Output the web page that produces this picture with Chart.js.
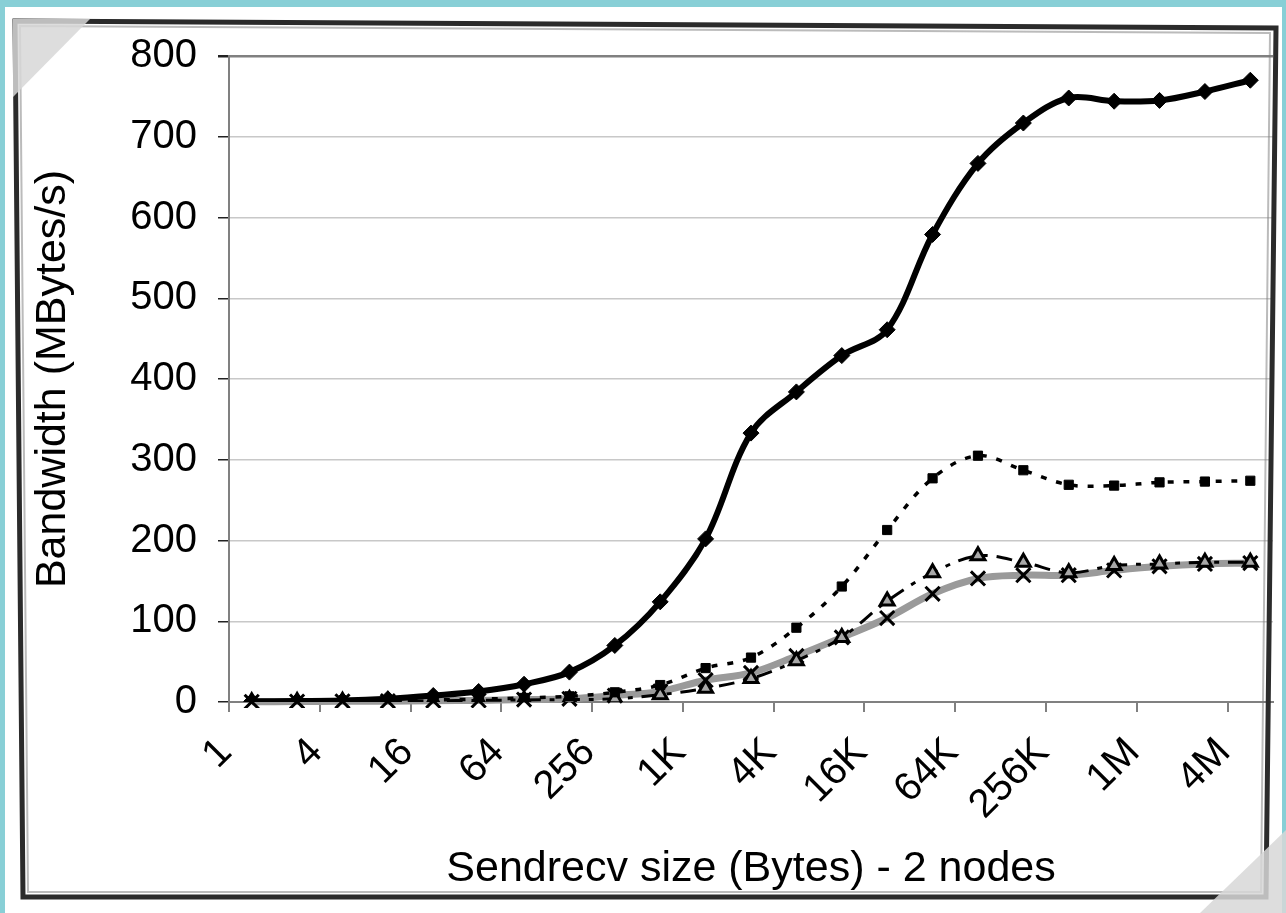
<!DOCTYPE html>
<html>
<head>
<meta charset="utf-8">
<script src="https://cdn.jsdelivr.net/npm/chart.js@4/dist/chart.umd.min.js"></script>
<style>
  html, body { margin: 0; padding: 0; background: #ffffff; }
  #wrap { position: relative; width: 1286px; height: 913px; }
  canvas { display: block; }
</style>
</head>
<body>
<div id="wrap"><canvas id="c" width="1286" height="913"></canvas></div>
<script>
// ---- data ----
const sizes = ['1','2','4','8','16','32','64','128','256','512',
               '1K','2K','4K','8K','16K','32K','64K','128K','256K','512K',
               '1M','2M','4M'];
const seriesDiamond = [0.8, 1.2, 1.8, 4, 8, 13, 22, 37, 70, 124, 202, 333, 384, 429, 461, 579, 667, 717, 748, 744, 745, 756, 770];
const seriesSquare  = [0.5, 0.8, 1.2, 1.8, 2.5, 3.5, 5, 7, 12, 21, 42, 55, 92, 143, 213, 277, 305, 287, 269, 268, 272, 273, 274];
const seriesTriangle= [0.3, 0.5, 0.8, 1, 1.5, 2, 2.5, 3, 4, 9, 17, 29, 51, 80, 125, 160, 181, 173, 160, 169, 171, 173, 173];
const seriesCross   = [0.3, 0.5, 0.8, 1, 1.5, 2, 3, 4, 8, 13, 27, 36, 57, 80, 104, 134, 153, 157, 157, 163, 168, 171, 172];
const yTicks = [0, 100, 200, 300, 400, 500, 600, 700, 800];
const xTitle = 'Sendrecv size (Bytes) - 2 nodes';
const yTitle = 'Bandwidth (MBytes/s)';

const FONT = "'Liberation Sans', Arial, Helvetica, sans-serif";

const framePlugin = {
  id: 'frame',
  beforeDraw(chart) {
    const ctx = chart.ctx;
    ctx.save();
    ctx.fillStyle = '#88cfd6';
    ctx.fillRect(0, 0, 1286, 7);
    ctx.fillRect(0, 0, 5, 913);
    ctx.fillRect(1282, 0, 4, 913);
    ctx.fillStyle = '#ffffff';
    ctx.beginPath();
    ctx.moveTo(15, 21); ctx.lineTo(1276, 28); ctx.lineTo(1266, 897); ctx.lineTo(23, 897); ctx.closePath();
    ctx.fill();
    ctx.restore();
  },
  afterDraw(chart) {
    const ctx = chart.ctx;
    ctx.save();
    ctx.strokeStyle = '#2b2b2b';
    ctx.lineWidth = 5;
    ctx.beginPath();
    ctx.moveTo(15, 21); ctx.lineTo(1276, 28); ctx.lineTo(1266, 897); ctx.lineTo(23, 897); ctx.closePath();
    ctx.stroke();
    ctx.strokeStyle = 'rgba(120,120,120,0.5)';
    ctx.lineWidth = 2;
    ctx.beginPath();
    ctx.moveTo(20, 26); ctx.lineTo(1270, 33); ctx.lineTo(1261, 892); ctx.lineTo(28, 892); ctx.closePath();
    ctx.stroke();
    ctx.fillStyle = 'rgba(215,215,215,0.85)';
    ctx.beginPath();
    ctx.moveTo(13, 19); ctx.lineTo(90, 19); ctx.lineTo(13, 97); ctx.closePath();
    ctx.fill();
    ctx.beginPath();
    ctx.moveTo(1286, 830); ctx.lineTo(1286, 913); ctx.lineTo(1200, 913); ctx.closePath();
    ctx.fill();
    ctx.restore();
  }
};

const ctx = document.getElementById('c').getContext('2d');
new Chart(ctx, {
  type: 'line',
  data: {
    labels: sizes,
    datasets: [
      {
        label: 'diamond', data: seriesDiamond, order: 0,
        borderColor: '#000', borderWidth: 6, tension: 0.35,
        pointStyle: 'rectRot', pointRadius: 8, pointBackgroundColor: '#000', pointBorderColor: '#000', pointBorderWidth: 1
      },
      {
        label: 'square', data: seriesSquare, order: 1,
        borderColor: '#000', borderWidth: 3.5, borderDash: [6, 10], tension: 0.35,
        pointStyle: 'rect', pointRadius: 6.5, pointBackgroundColor: '#000', pointBorderColor: '#000', pointBorderWidth: 1
      },
      {
        label: 'triangle', data: seriesTriangle, order: 2,
        borderColor: '#000', borderWidth: 3, borderDash: [16, 9, 5, 9], tension: 0.35,
        pointStyle: 'triangle', pointRadius: 8, pointBackgroundColor: '#a8a8a8', pointBorderColor: '#000', pointBorderWidth: 3
      },
      {
        label: 'cross', data: seriesCross, order: 3,
        borderColor: '#9a9a9a', borderWidth: 7, tension: 0.35, clip: 6,
        pointStyle: 'crossRot', pointRadius: 10, pointBackgroundColor: '#000', pointBorderColor: '#000', pointBorderWidth: 3
      }
    ]
  },
  options: {
    responsive: false,
    animation: false,
    devicePixelRatio: 1,
    layout: { padding: { top: 56, right: 11, bottom: 18, left: 0 } },
    plugins: { legend: { display: false }, tooltip: { enabled: false } },
    scales: {
      x: {
        type: 'category',
        offset: true,
        grid: {
          offset: true, drawOnChartArea: false, drawTicks: true, tickLength: 10, lineWidth: 2,
          color: 'rgba(0,0,0,0)',
          tickColor: (c) => (c.index % 2 === 0 ? '#808080' : 'rgba(0,0,0,0)')
        },
        border: { display: true, color: '#808080', width: 2 },
        ticks: {
          autoSkip: false, minRotation: 45, maxRotation: 45,
          font: { family: FONT, size: 40 }, color: '#000', padding: 17, labelOffset: -26,
          callback: (v, i) => (i % 2 === 0 ? sizes[i] : '')
        },
        title: { display: true, text: xTitle, color: '#000', font: { family: FONT, size: 43 }, padding: 0 },
        afterFit: (s) => { s.height = 193; s.paddingLeft = 0; s.paddingRight = 0; }
      },
      y: {
        min: 0, max: 800,
        afterBuildTicks: (s) => { s.ticks = yTicks.map(v => ({ value: v })); },
        grid: {
          drawTicks: true, tickLength: 11,
          color: (c) => (c.tick && c.tick.value === 800 ? '#808080' : '#c8c8c8'),
          lineWidth: (c) => (c.tick && c.tick.value === 800 ? 2.5 : 1.5),
          tickColor: '#222'
        },
        border: { display: true, color: '#808080', width: 2 },
        ticks: { font: { family: FONT, size: 40 }, color: '#000', padding: 21 },
        title: { display: true, text: yTitle, color: '#000', font: { family: FONT, size: 43 }, padding: { top: 27, bottom: 0 } },
        afterFit: (s) => { s.width = 229; s.paddingTop = 0; s.paddingBottom = 0; }
      }
    }
  },
  plugins: [framePlugin]
});
</script>
</body>
</html>
